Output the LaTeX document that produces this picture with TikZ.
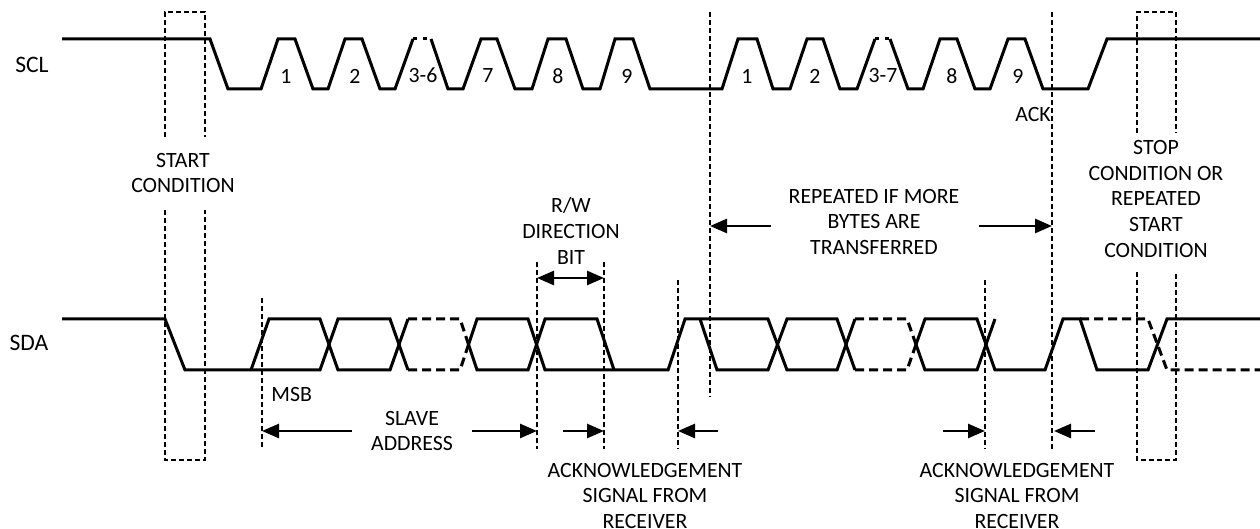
\documentclass[tikz,border=0pt]{standalone}
\usepackage{fontspec}
\setmainfont{Carlito}
\usetikzlibrary{arrows.meta}

\begin{document}
\begin{tikzpicture}[x=0.5pt, y=-0.5pt,
    wave/.style={line width=1.5pt},
    altwave/.style={wave, dash pattern=on 4.5pt off 2.5pt},
    dotwave/.style={wave, dash pattern=on 2pt off 3pt},
    marker/.style={line width=1pt, dash pattern=on 2.5pt off 1.5pt},
    dimarrow/.style={line width=1.3pt, -{Triangle[length=8.5pt,width=7pt]}},
    dimboth/.style={line width=1.3pt, {Triangle[length=8.5pt,width=7pt]}-{Triangle[length=8.5pt,width=7pt]}},
    lbl/.style={font=\fontsize{10.9}{12.9}\selectfont, align=center, inner sep=0pt},
    sig/.style={font=\fontsize{11.8}{14}\selectfont, inner sep=0pt},
]
    \useasboundingbox (0,0) rectangle (1260,529);

    % signal names
    \node[sig] (scl) at (32,65) {SCL};
    \node[sig] (sda) at (29,343) {SDA};

    % start and stop boxes
    \draw[marker] (165,137) -- (165,12) -- (205,12) -- (205,137);
    \draw[marker] (165,210) -- (165,460) -- (205,460) -- (205,210);
    \draw[marker] (1137,133) -- (1137,12) -- (1176,12) -- (1176,133);
    \draw[marker] (1137,272) -- (1137,460) -- (1176,460) -- (1176,272);

    % long markers
    \draw[marker] (710,12) -- (710,397);
    \draw[marker] (1052,12) -- (1052,449);
    \draw[marker] (262,298) -- (262,449);
    \draw[marker] (537,262) -- (537,449);
    \draw[marker] (604,262) -- (604,449);
    \draw[marker] (678,280) -- (678,449);
    \draw[marker] (985,280) -- (985,449);

    % SCL
    \draw[wave] (62,39) -- (210,39) -- (228,89) -- (261,89) -- (278,39) -- (295,39) -- (313,89)
        -- (328,89) -- (345,39) -- (362,39) -- (380,89) -- (395,89) -- (413,39);
    \draw[dotwave] (413,39) -- (431,39);
    \draw[wave] (431,39) -- (448,89) -- (463,89) -- (481,39) -- (497,39) -- (515,89) -- (532,89)
        -- (548,39) -- (566,39) -- (583,89) -- (600,89) -- (615,39) -- (633,39) -- (650,89)
        -- (722,89) -- (738,39) -- (757,39) -- (773,89) -- (790,89) -- (807,39) -- (823,39)
        -- (840,89) -- (857,89) -- (875,39);
    \draw[dotwave] (875,39) -- (890,39);
    \draw[wave] (890,39) -- (908,89) -- (923,89) -- (940,39) -- (957,39) -- (975,89) -- (990,89)
        -- (1008,39) -- (1025,39) -- (1043,89) -- (1088,89) -- (1107,39) -- (1260,39);

    % clock numbers
    \node[lbl] (c1) at (286,76) {1};
    \node[lbl] (c2) at (355,76) {2};
    \node[lbl] (c36) at (423,75) {3-6};
    \node[lbl] (c7) at (488,76) {7};
    \node[lbl] (c8) at (558,76) {8};
    \node[lbl] (c9) at (627,76) {9};
    \node[lbl] (d1) at (747,76) {1};
    \node[lbl] (d2) at (815,76) {2};
    \node[lbl] (d37) at (883,76) {3-7};
    \node[lbl] (d8) at (952,76) {8};
    \node[lbl] (d9) at (1018,76) {9};
    \node[lbl] (ack) at (1033,115) {ACK};

    % SDA, first byte
    \draw[wave] (62,319) -- (165,319) -- (185,370) -- (320,370) -- (338,319) -- (390,319) -- (408,370);
    \draw[wave] (251,370) -- (269,319) -- (320,319) -- (338,370) -- (390,370) -- (408,319);
    \draw[altwave] (408,370) -- (460,370) -- (468.5,344.5);
    \draw[altwave] (408,319) -- (460,319) -- (468.5,344.5);
    \draw[wave] (468.5,344.5) -- (477,319) -- (528,319) -- (545,370) -- (668,370) -- (685,319)
        -- (768,319) -- (787,370) -- (837,370) -- (855,319);
    \draw[wave] (468.5,344.5) -- (477,370) -- (528,370) -- (545,319) -- (597,319) -- (614,370);
    % SDA, second byte
    \draw[wave] (700,319) -- (717,370) -- (768,370) -- (787,319) -- (837,319) -- (855,370);
    \draw[altwave] (855,319) -- (907,319) -- (916,344.5);
    \draw[altwave] (855,370) -- (907,370) -- (916,344.5);
    \draw[wave] (916,344.5) -- (925,370) -- (977,370) -- (995,319);
    \draw[wave] (916,344.5) -- (925,319) -- (977,319) -- (995,370) -- (1045,370) -- (1063,319)
        -- (1080,319) -- (1097,370) -- (1148,370) -- (1167,319) -- (1260,319);
    \draw[altwave] (1080,319) -- (1148,319) -- (1167,370) -- (1260,370);

    % labels
    \node[lbl] (start) at (183,173) {START\\CONDITION};
    \node[lbl] (rw) at (571,231) {R/W\\DIRECTION\\BIT};
    \node[lbl] (repeat) at (874,222) {REPEATED IF MORE\\BYTES ARE\\TRANSFERRED};
    \node[lbl] (stop) at (1156,199) {STOP\\CONDITION OR\\REPEATED\\START\\CONDITION};
    \node[lbl, anchor=west] (msb) at (271,395) {MSB};
    \node[lbl] (slave) at (412,431) {SLAVE\\ADDRESS};
    \node[lbl] (ackA) at (645,496) {ACKNOWLEDGEMENT\\SIGNAL FROM\\RECEIVER};
    \node[lbl] (ackB) at (1017,496) {ACKNOWLEDGEMENT\\SIGNAL FROM\\RECEIVER};

    % arrow ends
    \coordinate (rwL) at (537,278);
    \coordinate (rwR) at (604,278);
    \coordinate (msbEnd) at (262,431);
    \coordinate (slaveL) at (352,431);
    \coordinate (slaveR) at (472,431);
    \coordinate (rwEnd) at (537,431);
    \coordinate (ackAin) at (563,431);
    \coordinate (ackAend) at (604,431);
    \coordinate (ackAout) at (718,431);
    \coordinate (ackAbeg) at (678,431);
    \coordinate (ackBin) at (943,431);
    \coordinate (ackBend) at (985,431);
    \coordinate (ackBout) at (1095,431);
    \coordinate (ackBbeg) at (1054,431);
    \coordinate (repL) at (771,226);
    \coordinate (repLend) at (710,226);
    \coordinate (repR) at (979,226);
    \coordinate (repRend) at (1052,226);

    \draw[dimboth] (rwL) -- (rwR);
    \draw[dimarrow] (slaveL) -- (msbEnd);
    \draw[dimarrow] (slaveR) -- (rwEnd);
    \draw[dimarrow] (ackAin) -- (ackAend);
    \draw[dimarrow] (ackAout) -- (ackAbeg);
    \draw[dimarrow] (ackBin) -- (ackBend);
    \draw[dimarrow] (ackBout) -- (ackBbeg);
    \draw[dimarrow] (repL) -- (repLend);
    \draw[dimarrow] (repR) -- (repRend);
\end{tikzpicture}
\end{document}
